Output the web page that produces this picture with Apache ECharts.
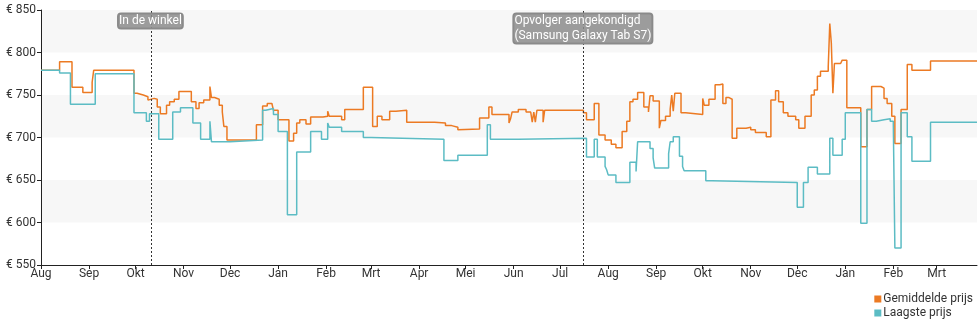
<!DOCTYPE html>
<html>
<head>
<meta charset="utf-8">
<script src="https://cdn.jsdelivr.net/npm/echarts@6/dist/echarts.min.js"></script>
<style>
  html, body { margin: 0; padding: 0; background: #fff; }
  #chart { width: 980px; height: 325px; }
</style>
</head>
<body>
<div id="chart"></div>
<script>
// Price history: average shop price and lowest price, in euro, per date.
const avgPrice = [
  ['2019-08-01', 779], ['2019-08-13', 789], ['2019-08-21', 759], ['2019-08-28', 753],
  ['2019-09-03', 765], ['2019-09-04', 779], ['2019-09-30', 752], ['2019-10-02', 750],
  ['2019-10-06', 748], ['2019-10-09', 744], ['2019-10-10', 746], ['2019-10-13', 745],
  ['2019-10-15', 736], ['2019-10-17', 728], ['2019-10-21', 738], ['2019-10-23', 742],
  ['2019-10-26', 745], ['2019-10-29', 754], ['2019-11-06', 742], ['2019-11-09', 734],
  ['2019-11-11', 741], ['2019-11-14', 744], ['2019-11-18', 760], ['2019-11-19', 747],
  ['2019-11-21', 745], ['2019-11-24', 738], ['2019-11-26', 730], ['2019-11-27', 713],
  ['2019-11-29', 697], ['2019-12-18', 715], ['2019-12-22', 737], ['2019-12-25', 740],
  ['2019-12-28', 738], ['2019-12-29', 732], ['2020-01-01', 721], ['2020-01-08', 696],
  ['2020-01-11', 705], ['2020-01-13', 717], ['2020-01-15', 721], ['2020-01-19', 716],
  ['2020-01-22', 724], ['2020-01-30', 725], ['2020-02-02', 731], ['2020-02-03', 725],
  ['2020-02-11', 721], ['2020-02-13', 733], ['2020-02-25', 759], ['2020-03-02', 713],
  ['2020-03-05', 725], ['2020-03-08', 721], ['2020-03-13', 731], ['2020-03-17', 732],
  ['2020-03-24', 718], ['2020-04-11', 717], ['2020-04-18', 714], ['2020-04-22', 712],
  ['2020-04-26', 709], ['2020-04-27', 710], ['2020-05-10', 723], ['2020-05-16', 736],
  ['2020-05-18', 727], ['2020-05-29', 717], ['2020-05-30', 722], ['2020-05-31', 730],
  ['2020-06-04', 733], ['2020-06-09', 730], ['2020-06-12', 732], ['2020-06-13', 718],
  ['2020-06-14', 730], ['2020-06-15', 718], ['2020-06-16', 732], ['2020-06-20', 718],
  ['2020-06-21', 732], ['2020-07-16', 729], ['2020-07-18', 721], ['2020-07-23', 740],
  ['2020-07-26', 703], ['2020-07-30', 697], ['2020-08-03', 692], ['2020-08-06', 688],
  ['2020-08-10', 707], ['2020-08-13', 719], ['2020-08-15', 742], ['2020-08-17', 745],
  ['2020-08-20', 753], ['2020-08-24', 736], ['2020-08-27', 730], ['2020-08-28', 749],
  ['2020-08-30', 743], ['2020-09-03', 711], ['2020-09-04', 720], ['2020-09-07', 725],
  ['2020-09-10', 733], ['2020-09-11', 750], ['2020-09-12', 731], ['2020-09-13', 752],
  ['2020-09-17', 729], ['2020-09-20', 727], ['2020-10-01', 746], ['2020-10-02', 738],
  ['2020-10-05', 745], ['2020-10-09', 762], ['2020-10-12', 763], ['2020-10-14', 740],
  ['2020-10-16', 747], ['2020-10-18', 745], ['2020-10-20', 699], ['2020-10-23', 711],
  ['2020-10-29', 712], ['2020-11-01', 709], ['2020-11-04', 706], ['2020-11-11', 701],
  ['2020-11-14', 744], ['2020-11-17', 755], ['2020-11-19', 742], ['2020-11-22', 729],
  ['2020-11-25', 725], ['2020-11-30', 721], ['2020-12-02', 711], ['2020-12-06', 725],
  ['2020-12-10', 750], ['2020-12-12', 756], ['2020-12-14', 772], ['2020-12-16', 778],
  ['2020-12-21', 783], ['2020-12-22', 834], ['2020-12-23', 811], ['2020-12-24', 752],
  ['2020-12-25', 787], ['2020-12-29', 785], ['2020-12-30', 791], ['2021-01-02', 735],
  ['2021-01-11', 689], ['2021-01-15', 733], ['2021-01-18', 760], ['2021-01-24', 758],
  ['2021-01-26', 746], ['2021-01-28', 740], ['2021-01-31', 725], ['2021-02-02', 693],
  ['2021-02-06', 733], ['2021-02-10', 786], ['2021-02-13', 779], ['2021-02-25', 790],
  ['2021-03-27', 790]
];

const lowPrice = [
  ['2019-08-01', 779], ['2019-08-13', 776], ['2019-08-20', 739], ['2019-09-05', 775],
  ['2019-09-30', 729], ['2019-10-08', 719], ['2019-10-10', 728], ['2019-10-16', 698],
  ['2019-10-25', 730], ['2019-10-30', 735], ['2019-11-07', 717], ['2019-11-12', 698],
  ['2019-11-18', 719], ['2019-11-19', 695], ['2019-12-01', 697], ['2019-12-22', 732],
  ['2019-12-24', 734], ['2019-12-29', 727], ['2020-01-01', 707], ['2020-01-07', 609],
  ['2020-01-13', 683], ['2020-01-22', 707], ['2020-01-29', 698], ['2020-02-02', 717],
  ['2020-02-03', 712], ['2020-02-11', 707], ['2020-02-25', 700], ['2020-03-01', 698],
  ['2020-04-17', 673], ['2020-04-26', 679], ['2020-05-15', 715], ['2020-05-17', 698],
  ['2020-06-04', 699], ['2020-07-18', 677], ['2020-07-23', 698], ['2020-07-25', 677],
  ['2020-07-30', 666], ['2020-07-31', 662], ['2020-08-01', 656], ['2020-08-06', 647],
  ['2020-08-15', 671], ['2020-08-19', 660], ['2020-08-20', 695], ['2020-08-28', 687],
  ['2020-08-30', 676], ['2020-08-31', 664], ['2020-09-09', 681], ['2020-09-10', 695],
  ['2020-09-12', 701], ['2020-09-16', 678], ['2020-09-18', 666], ['2020-09-19', 661],
  ['2020-10-03', 649], ['2020-10-07', 647], ['2020-12-01', 618], ['2020-12-05', 647],
  ['2020-12-08', 665], ['2020-12-14', 657], ['2020-12-22', 699], ['2020-12-24', 679],
  ['2020-12-30', 698], ['2021-01-01', 729], ['2021-01-11', 599], ['2021-01-15', 733],
  ['2021-01-18', 719], ['2021-01-21', 721], ['2021-01-26', 722], ['2021-01-30', 719],
  ['2021-02-01', 715], ['2021-02-02', 570], ['2021-02-06', 729], ['2021-02-10', 701],
  ['2021-02-13', 672], ['2021-02-25', 718], ['2021-03-27', 718]
];

// Annotated events on the timeline
const eventDates = ['2019-10-11', '2020-07-16'];
const eventLabels = ['In de winkel', 'Opvolger aangekondigd\n(Samsung Galaxy Tab S7)'];

const monthNames = ['Jan', 'Feb', 'Mrt', 'Apr', 'Mei', 'Jun', 'Jul', 'Aug', 'Sep', 'Okt', 'Nov', 'Dec'];
const seriesNames = ['Gemiddelde prijs', 'Laagste prijs'];
const seriesColors = ['#ec7a23', '#5cbcc4'];
const dateRange = ['2019-08-01', '2021-03-27'];
const yRange = [550, 850, 50];

const FONT = 'Roboto, "Noto Sans", sans-serif';
const LABEL_FONT_SIZE = 12;
const LABEL_PAD = 1;

// widest line of a caption, used to centre the left-aligned box on its line
const measureCtx = document.createElement('canvas').getContext('2d');
measureCtx.font = LABEL_FONT_SIZE + 'px ' + FONT;
function captionWidth(text) {
  return Math.max.apply(null, text.split('\n').map(function (l) { return measureCtx.measureText(l).width; }));
}

const chart = echarts.init(document.getElementById('chart'), null, { renderer: 'canvas' });

const option = {
  animation: false,
  textStyle: { fontFamily: FONT },
  grid: { left: 41, right: 3, top: 10, bottom: 60 },
  legend: {
    data: seriesNames,
    orient: 'vertical',
    right: 2,
    bottom: 1,
    icon: 'rect',
    itemWidth: 7,
    itemHeight: 7,
    itemGap: 2,
    align: 'left',
    textStyle: { fontFamily: FONT, fontSize: 12, color: '#333', padding: [0, 0, 0, -3] }
  },
  xAxis: {
    type: 'time',
    min: dateRange[0],
    max: dateRange[1],
    splitNumber: 20,
    minInterval: 28 * 86400000,
    axisLine: { lineStyle: { color: '#222', width: 1 } },
    axisTick: { show: true, length: 4, lineStyle: { color: '#222' } },
    axisLabel: {
      color: '#333',
      fontSize: 12,
      fontFamily: FONT,
      margin: 3,
      hideOverlap: false,
      formatter: function (val) { return monthNames[new Date(val).getMonth()]; }
    },
    splitLine: { show: false }
  },
  yAxis: {
    type: 'value',
    min: yRange[0],
    max: yRange[1],
    interval: yRange[2],
    axisLine: { show: true, lineStyle: { color: '#222', width: 1 } },
    axisTick: { show: true, length: 4, lineStyle: { color: '#222' } },
    axisLabel: {
      color: '#333',
      fontSize: 12,
      fontFamily: FONT,
      margin: 5,
      formatter: '€ {value}'
    },
    splitLine: { show: false },
    splitArea: { show: true, areaStyle: { color: ['#ffffff', '#f7f7f7'] } }
  },
  series: [
    {
      name: seriesNames[0],
      type: 'line',
      step: 'end',
      data: avgPrice,
      showSymbol: false,
      symbol: 'none',
      z: 3,
      color: seriesColors[0],
      lineStyle: { width: 1.5, color: seriesColors[0] }
    },
    {
      name: seriesNames[1],
      type: 'line',
      step: 'end',
      data: lowPrice,
      showSymbol: false,
      symbol: 'none',
      z: 4,
      color: seriesColors[1],
      lineStyle: { width: 1.5, color: seriesColors[1] }
    },
    {
      // event captions at the top of the plot
      name: 'events-labels',
      type: 'line',
      data: [],
      z: 5,
      markPoint: {
        symbol: 'rect',
        symbolSize: 1,
        itemStyle: { color: 'rgba(0,0,0,0)' },
        silent: true,
        label: {
          show: true,
          position: 'bottom',
          distance: 3,
          color: '#fff',
          fontFamily: FONT,
          fontSize: LABEL_FONT_SIZE,
          lineHeight: 15,
          align: 'left',
          backgroundColor: 'rgba(140,140,140,0.85)',
          borderColor: '#8a8a8a',
          borderWidth: 1,
          borderRadius: 3,
          padding: [0, LABEL_PAD, 0, LABEL_PAD],
          formatter: function (p) { return p.name; }
        },
        data: eventDates.map(function (d, i) {
          const half = Math.round(captionWidth(eventLabels[i]) / 2 + LABEL_PAD + 1);
          return {
            name: eventLabels[i],
            coord: [d, yRange[1]],
            label: { offset: [-half, 0] }
          };
        })
      }
    },
    {
      // event marker lines
      name: 'events-lines',
      type: 'line',
      data: [],
      z: 6,
      markLine: {
        symbol: 'none',
        silent: true,
        label: { show: false },
        lineStyle: { color: '#333', width: 1, type: [2, 2] },
        data: eventDates.map(function (d) { return { xAxis: d }; })
      }
    }
  ]
};

chart.setOption(option);
</script>
</body>
</html>
